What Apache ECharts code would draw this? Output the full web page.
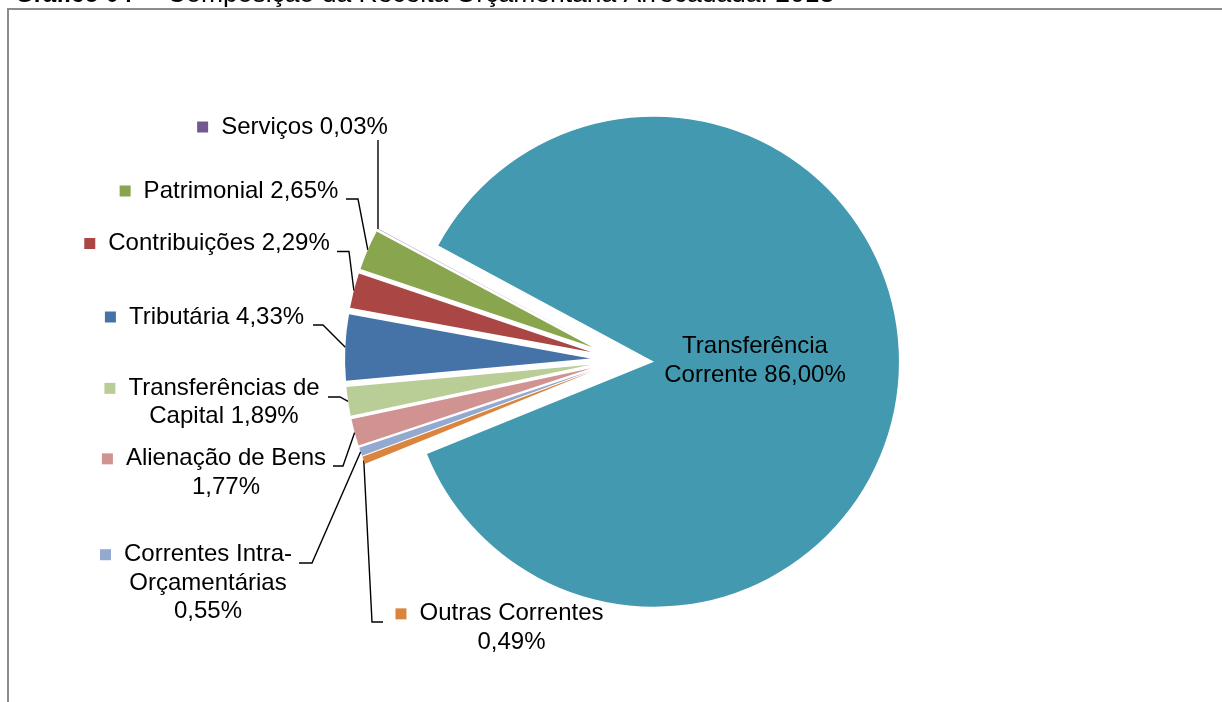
<!DOCTYPE html>
<html>
<head>
<meta charset="utf-8">
<script src="https://cdn.jsdelivr.net/npm/echarts@6/dist/echarts.min.js"></script>
<style>
html, body { margin: 0; padding: 0; background: #fff; }
#chart { width: 1222px; height: 702px; }
</style>
</head>
<body>
<div id="chart"></div>
<script>
// data, in the order the slices go round (clockwise)
var categories = ['Transferência Corrente', 'Outras Correntes', 'Correntes Intra-Orçamentárias', 'Alienação de Bens',
	'Transferências de Capital', 'Tributária', 'Contribuições', 'Patrimonial', 'Serviços'];
var values = [86.00, 0.49, 0.55, 1.77, 1.89, 4.33, 2.29, 2.65, 0.03];
// label names with the line breaks used in the picture
var labelNames = ['Transferência\nCorrente ', 'Outras Correntes\n', 'Correntes Intra-\nOrçamentárias\n', 'Alienação de Bens\n',
	'Transferências de\nCapital ', 'Tributária ', 'Contribuições ', 'Patrimonial ', 'Serviços '];

var colors = ['#4399AF', '#DB843D', '#93A9CF', '#D19392', '#B9CD96', '#4572A7', '#AA4643', '#89A54E', '#71588F'];

// layout: label centers and leader line bends
var pieCenter = [622, 360];
var pieRadius = 245;
var explode = 32;
var startAngle = 151.7;
var labelPos = [[755, 361], [499.5, 628], [196, 583], [214, 473], [212, 402.5], [204.5, 317], [207, 243.5], [229, 191], [292.5, 127]];
var leaderPts = [
	null,
	[[372, 622], [383, 622]],
	[[312, 563], [299, 563]],
	[[343, 466], [333, 466]],
	[[340, 397], [328, 397]],
	[[323, 325], [313, 325]],
	[[349, 251.5], [337, 251.5]],
	[[358, 199], [346, 199]],
	'up140'
];

function fmtPct(v)
{
	return v.toFixed(2).replace('.', ',') + '%';
}

function labelText(i)
{
	var lines = (labelNames[i] + fmtPct(values[i])).split('\n');
	if (i == 0) return lines.join('\n');
	return lines.map(function (t, k) {
		return (k == 0 ? '{m|}' : '{p|}') + '{s|}' + t;
	}).join('\n');
}

var total = values.reduce(function (a, b) { return a + b; }, 0);

function makeSeries(i)
{
	// each slice is its own pie, pushed out along its middle angle
	var before = 0;
	for (var k = 0; k < i; k++) before += values[k];
	var mid = (startAngle - 360 * (before + values[i] / 2) / total) * Math.PI / 180;
	var cx = pieCenter[0] + explode * Math.cos(mid);
	var cy = pieCenter[1] - explode * Math.sin(mid);

	var data = values.map(function (v, j) {
		if (j == i) return { value: v, name: categories[j], itemStyle: { color: colors[j] } };
		return { value: v, name: categories[j], itemStyle: { color: 'rgba(0,0,0,0)' }, label: { show: false }, labelLine: { show: false } };
	});

	return {
		type: 'pie',
		center: [cx, cy],
		radius: pieRadius,
		startAngle: startAngle,
		clockwise: true,
		silent: true,
		avoidLabelOverlap: false,
		emphasis: { disabled: true },
		itemStyle: { borderWidth: 0 },
		label: {
			show: true,
			position: i == 0 ? 'inside' : 'outside',
			formatter: function () { return labelText(i); },
			color: '#000',
			fontSize: 24,
			fontFamily: 'Liberation Sans, Arial, sans-serif',
			lineHeight: 28.3,
			align: 'center',
			rich: {
				m: { width: 11, height: 11, backgroundColor: colors[i] },
				p: { width: 11, height: 11 },
				s: { width: 13 }
			}
		},
		labelLine: { show: i != 0, smooth: false, lineStyle: { color: '#000', width: 1.4 } },
		labelLayout: function (params) {
			if (params.dataIndex != i) return {};
			var out = { x: labelPos[i][0], y: labelPos[i][1], align: 'center', verticalAlign: 'middle' };
			var pts = params.labelLinePoints;
			if (i != 0 && pts) {
				var p0 = [pts[0][0], pts[0][1]];
				if (leaderPts[i] == 'up140') out.labelLinePoints = [p0, [p0[0], 140]];
				else out.labelLinePoints = [p0].concat(leaderPts[i]);
			}
			return out;
		},
		data: data
	};
}

var seriesList = [];
for (var i = 0; i < values.length; i++) seriesList.push(makeSeries(i));

var chart = echarts.init(document.getElementById('chart'));
chart.setOption({
	animation: false,
	backgroundColor: '#fff',
	graphic: [
		{
			type: 'rect', silent: true,
			shape: { x: 8, y: 9, width: 1400, height: 1000 },
			style: { fill: 'none', stroke: '#8c8c8c', lineWidth: 2 }
		},
		// title is cut off at the top of the picture
		{
			type: 'text', silent: true, x: 15, y: -4.5,
			style: {
				text: 'Gráfico 04 –',
				fill: '#000',
				fontSize: 24,
				fontWeight: 'bold',
				fontFamily: 'Liberation Sans, Arial, sans-serif',
				verticalAlign: 'middle'
			}
		},
		{
			type: 'text', silent: true, x: 167, y: -5,
			style: {
				text: 'Composição da Receita Orçamentária Arrecadada: 2013',
				fill: '#000',
				fontSize: 26.5,
				fontFamily: 'Liberation Sans, Arial, sans-serif',
				verticalAlign: 'middle'
			}
		}
	],
	series: seriesList
});
</script>
</body>
</html>
